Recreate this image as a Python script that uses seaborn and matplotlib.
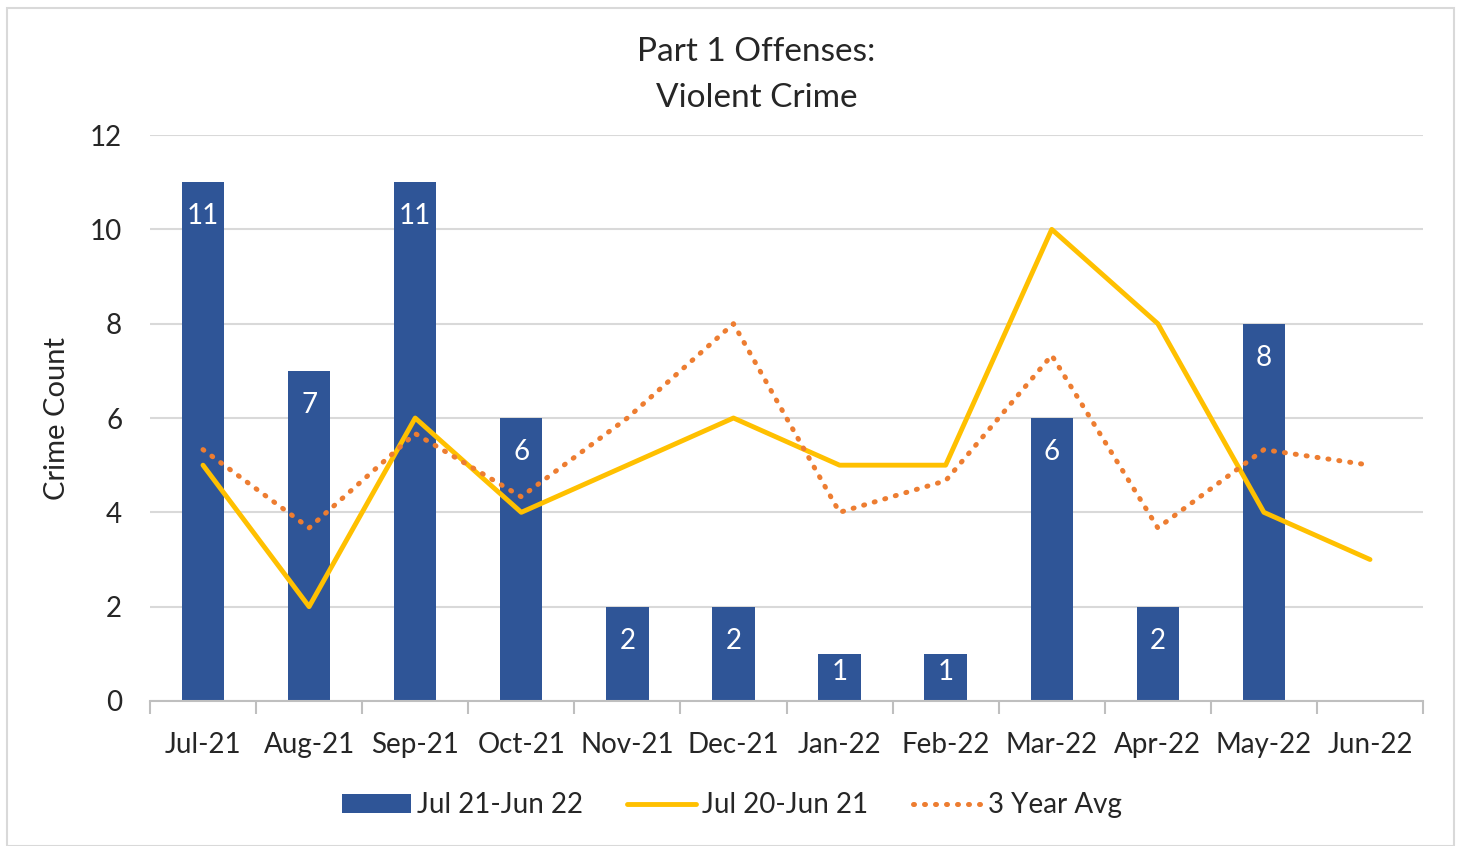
import numpy as np
import pandas as pd
import matplotlib
matplotlib.use("Agg")
import matplotlib.pyplot as plt
import seaborn as sns
from matplotlib.patches import Rectangle

months = ['Jul-21', 'Aug-21', 'Sep-21', 'Oct-21', 'Nov-21', 'Dec-21',
          'Jan-22', 'Feb-22', 'Mar-22', 'Apr-22', 'May-22', 'Jun-22']
current = [11, 7, 11, 6, 2, 2, 1, 1, 6, 2, 8, 0]
prior = [5, 2, 6, 4, 5, 6, 5, 5, 10, 8, 4, 3]
avg3 = [5.33, 3.67, 5.67, 4.33, 6.0, 8.0, 4.0, 4.67, 7.33, 3.67, 5.33, 5.0]

sns.set_theme(style="white")
plt.rcParams['font.family'] = ['Lato', 'DejaVu Sans']

df = pd.DataFrame({'Month': months, 'Current': current,
                   'Prior': prior, 'Avg': avg3, 'pos': np.arange(len(months))})

fig = plt.figure(figsize=(14.63, 8.46), dpi=100)
ax = fig.add_axes([0.1025, 0.1714, 0.8702, 0.669])

sns.barplot(data=df, x='Month', y='Current', color='#2F5597', saturation=1,
            width=0.4, ax=ax, label='Jul 21-Jun 22', linewidth=0)
sns.lineplot(data=df, x='pos', y='Prior', color='#FFC000', linewidth=3.5,
             ax=ax, label='Jul 20-Jun 21', solid_capstyle='round')
sns.lineplot(data=df, x='pos', y='Avg', color='#ED7D31', linewidth=3.6,
             linestyle=(0, (0.2, 2.0)), dash_capstyle='round', ax=ax,
             label='3 Year Avg')

# bar labels (inside end)
for i, v in enumerate(current):
    if v > 0:
        ax.text(i, max(v - 0.72, v * 0.62), str(v), ha='center', va='center',
                color='white', fontsize=20)

ax.set_xlim(-0.5, 11.5)
ax.set_ylim(0, 12)
ax.set_yticks(range(0, 13, 2))
ax.yaxis.grid(True, color='#D9D9D9', linewidth=1.5)
ax.set_axisbelow(True)
for s in ['top', 'right', 'left']:
    ax.spines[s].set_visible(False)
ax.spines['bottom'].set_color('#BFBFBF')
ax.spines['bottom'].set_linewidth(1.5)
ax.set_xlabel('')
ax.set_ylabel('Crime Count', fontsize=21, labelpad=14)
ax.tick_params(axis='y', labelsize=20, length=0, pad=20)
ax.tick_params(axis='x', labelsize=20, length=0, pad=22)
ax.set_xticks(np.arange(-0.5, 12, 1), minor=True)
ax.tick_params(axis='x', which='minor', length=9, color='#BFBFBF', width=1.5,
               direction='out', bottom=True)

fig.text(0.517, 0.938, 'Part 1 Offenses:', ha='center', va='center', fontsize=24)
fig.text(0.517, 0.884, 'Violent Crime', ha='center', va='center', fontsize=24)

handles, labels = ax.get_legend_handles_labels()
if ax.legend_:
    ax.legend_.remove()
order = [labels.index(l) for l in ['Jul 21-Jun 22', 'Jul 20-Jun 21', '3 Year Avg']]
fig.legend([handles[i] for i in order], [labels[i] for i in order],
           loc='center', bbox_to_anchor=(0.5, 0.048), ncol=3,
           frameon=False, fontsize=20, handlelength=2.5, handleheight=0.65,
           handletextpad=0.2, columnspacing=1.6)

fig.patches.append(Rectangle((0.005, 0.0), 0.989, 0.99, transform=fig.transFigure,
                             fill=False, edgecolor='#D9D9D9', linewidth=1.5))

fig.savefig('out.png', dpi=100)
